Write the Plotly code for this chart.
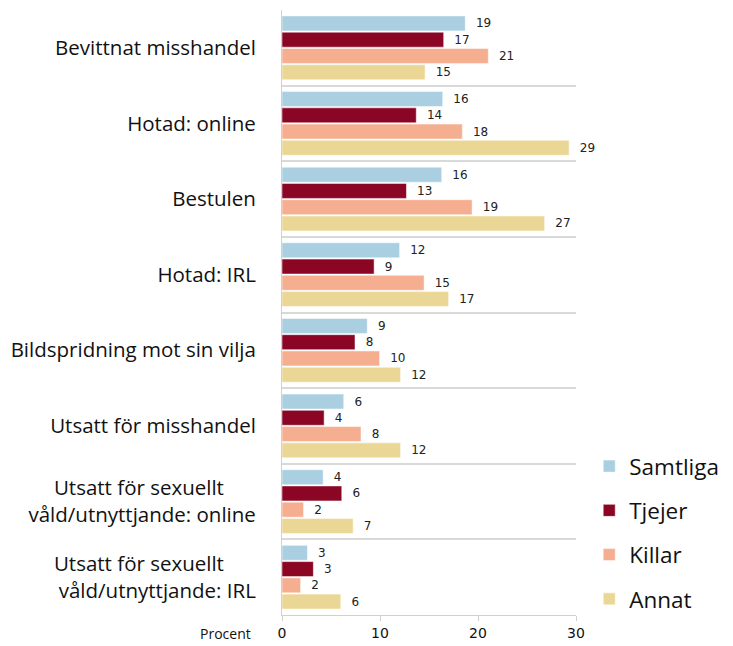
import plotly.graph_objects as go

categories = [
    "Bevittnat misshandel",
    "Hotad: online",
    "Bestulen",
    "Hotad: IRL",
    "Bildspridning mot sin vilja",
    "Utsatt för misshandel",
    "Utsatt för sexuellt" + "\u00a0" * 6 + "<br>våld/utnyttjande: online",
    "Utsatt för sexuellt" + "\u00a0" * 6 + "<br>våld/utnyttjande: IRL",
]
series_names = ["Samtliga", "Tjejer", "Killar", "Annat"]
samtliga = [18.7, 16.4, 16.3, 12.0, 8.7, 6.3, 4.2, 2.6]
tjejer = [16.5, 13.7, 12.7, 9.4, 7.45, 4.3, 6.1, 3.2]
killar = [21.05, 18.4, 19.4, 14.5, 9.96, 8.06, 2.2, 1.9]
annat = [14.6, 29.3, 26.8, 17.0, 12.1, 12.1, 7.26, 6.0]
labels_samtliga = [19, 16, 16, 12, 9, 6, 4, 3]
labels_tjejer = [17, 14, 13, 9, 8, 4, 6, 3]
labels_killar = [21, 18, 19, 15, 10, 8, 2, 2]
labels_annat = [15, 29, 27, 17, 12, 12, 7, 6]
colors = ["#a9cfe0", "#8b0624", "#f5ae90", "#ebd795"]
x_ticks = [0, 10, 20, 30]

series = [samtliga, tjejer, killar, annat]
labels = [labels_samtliga, labels_tjejer, labels_killar, labels_annat]

fig = go.Figure()
for name, vals, labs, col in zip(series_names, series, labels, colors):
    fig.add_trace(go.Bar(
        y=categories, x=vals, orientation="h", name=name,
        marker=dict(color=col, line=dict(color="white", width=0.5)),
        text=["\u00a0\u00a0" + str(v) for v in labs],
        textposition="outside", cliponaxis=False,
        textfont=dict(family="DejaVu Sans", size=12, color="#222"),
        legendgroup=name,
    ))

fig.update_layout(
    barmode="group", bargap=0.14, bargroupgap=0.08,
    width=725, height=638,
    margin=dict(l=274, r=157, t=2, b=31, autoexpand=False),
    plot_bgcolor="white", paper_bgcolor="white",
    font=dict(family="Open Sans", color="#111"),
    legend=dict(x=1.045, y=0.281, xanchor="left", yanchor="top",
                font=dict(size=22.5, family="Open Sans", color="#111"),
                tracegroupgap=12, itemwidth=30),
    showlegend=True,
)
fig.update_yaxes(
    type="category", autorange="reversed", tickson="boundaries",
    showgrid=True, gridcolor="#d9d9d9", gridwidth=2,
    ticks="", ticklabelstandoff=21, automargin=False,
    tickfont=dict(size=20.5, family="Open Sans", color="#111"),
    showline=True, linecolor="#d0d0d0", linewidth=1,
)
fig.update_xaxes(
    range=[0, 30], tickvals=x_ticks, showgrid=False, zeroline=False,
    showline=True, linecolor="#d0d0d0", linewidth=1, automargin=False,
    ticks="outside", ticklen=5, tickcolor="#d0d0d0",
    tickfont=dict(size=14, family="DejaVu Sans", color="#111"),
)
fig.add_annotation(text="Procent", xref="paper", yref="paper",
                   x=-0.10, y=0, yshift=-18, xanchor="right", yanchor="middle",
                   showarrow=False, font=dict(size=14, family="Open Sans", color="#111"))

fig.write_html("out.html")
